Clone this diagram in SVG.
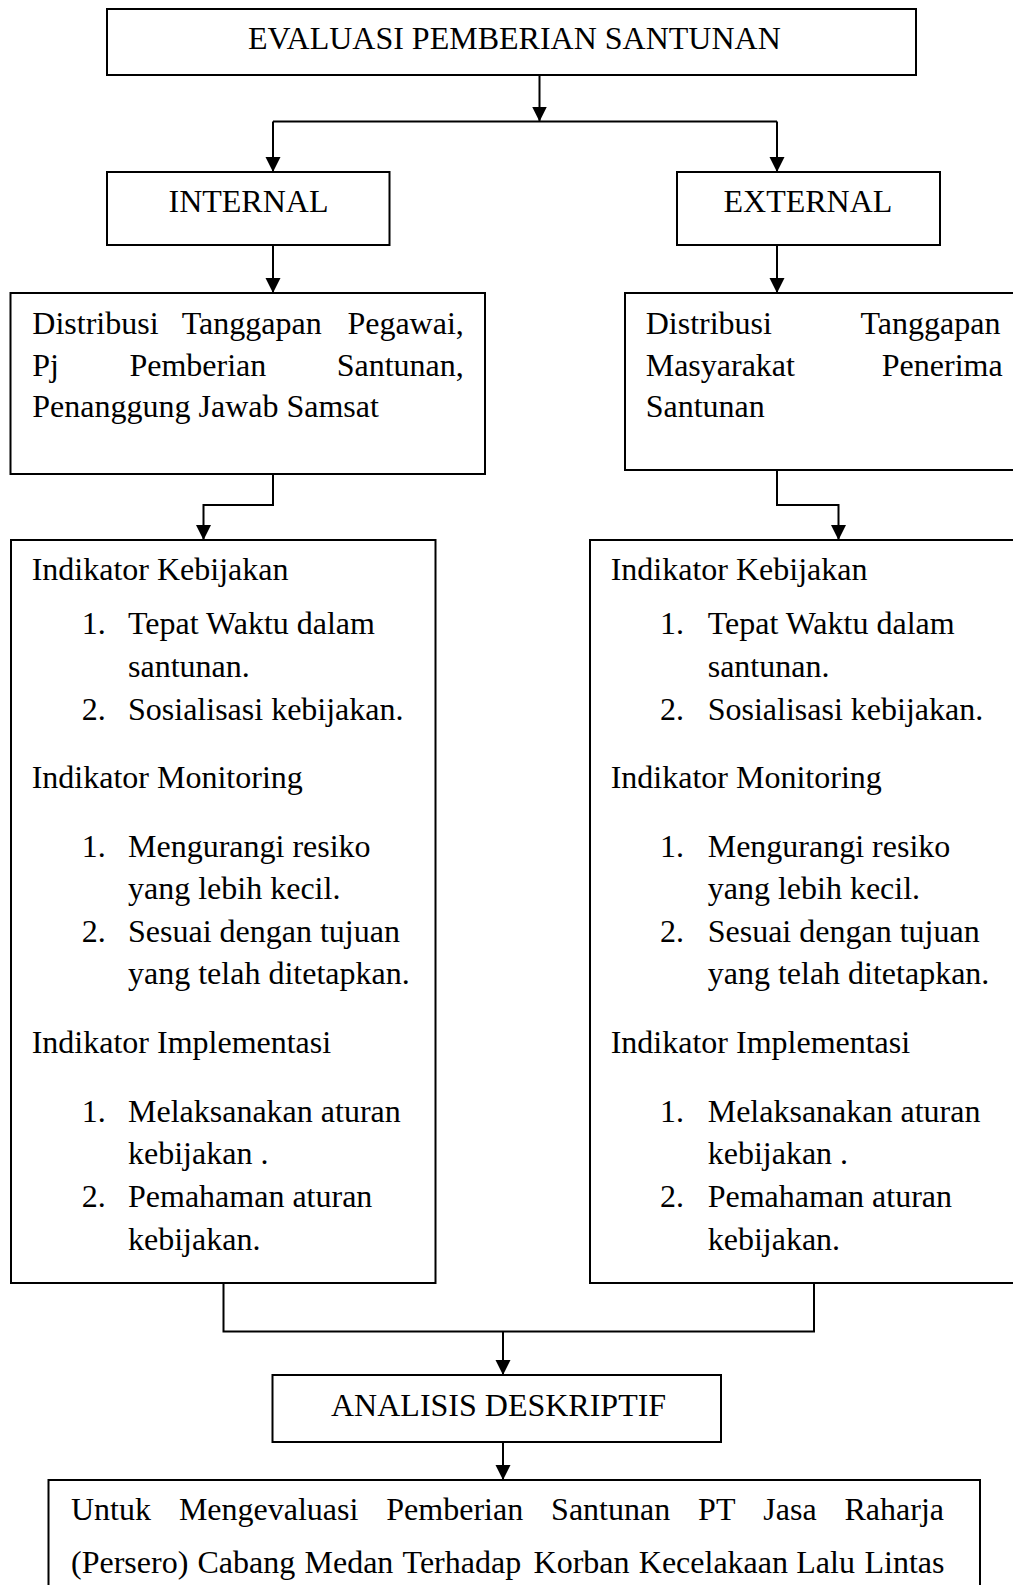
<svg xmlns="http://www.w3.org/2000/svg" width="1013" height="1585" viewBox="0 0 1013 1585">
<style>
.box{fill:#fff;stroke:#000;stroke-width:2}
.t{font-family:"Liberation Serif","Times New Roman",serif;font-size:32px;fill:#000}
.c{fill:none;stroke:#000;stroke-width:2}
</style>
<defs>
<marker id="ah" markerUnits="userSpaceOnUse" markerWidth="16" markerHeight="16" refX="15" refY="7.5" orient="auto">
<path d="M0,0 L15,7.5 L0,15 z" fill="#000"/>
</marker>
</defs>
<rect width="1013" height="1585" fill="#fff"/>

<g id="connectors">
<path class="c" d="M539.5,75 V121.5" marker-end="url(#ah)"/>
<path class="c" d="M273,121.5 H777"/>
<path class="c" d="M273,121.5 V172" marker-end="url(#ah)"/>
<path class="c" d="M777,121.5 V172" marker-end="url(#ah)"/>
<path class="c" d="M273,245 V293" marker-end="url(#ah)"/>
<path class="c" d="M777,245 V293" marker-end="url(#ah)"/>
<path class="c" d="M273,472 V505 H203.5 V540" marker-end="url(#ah)"/>
<path class="c" d="M777,469 V505 H838.5 V540" marker-end="url(#ah)"/>
<path class="c" d="M223.5,1283 V1331.5 H814 V1283"/>
<path class="c" d="M503,1331.5 V1375" marker-end="url(#ah)"/>
<path class="c" d="M503,1442 V1480" marker-end="url(#ah)"/>
</g>

<g id="evaluasi">
<rect class="box" x="107" y="9" width="809" height="66"/>
<text class="t" x="248" y="49">EVALUASI PEMBERIAN SANTUNAN</text>
</g>

<g id="internal">
<rect class="box" x="107" y="172" width="282.5" height="73"/>
<text class="t" x="168.5" y="211.5">INTERNAL</text>
</g>

<g id="external">
<rect class="box" x="677" y="172" width="263" height="73"/>
<text class="t" x="723.5" y="211.5">EXTERNAL</text>
</g>

<g id="distribusi-internal">
<rect class="box" x="10.5" y="293" width="474.5" height="181"/>
<text class="t" y="334"><tspan x="32.3">Distribusi</tspan><tspan x="181.8">Tanggapan</tspan><tspan x="347.4">Pegawai,</tspan></text>
<text class="t" y="376"><tspan x="32.3">Pj</tspan><tspan x="129.4">Pemberian</tspan><tspan x="336.7">Santunan,</tspan></text>
<text class="t" x="32.3" y="417">Penanggung Jawab Samsat</text>
</g>

<g id="distribusi-external">
<rect class="box" x="625" y="293" width="410" height="177"/>
<text class="t" y="334"><tspan x="645.7">Distribusi</tspan><tspan x="860.5">Tanggapan</tspan></text>
<text class="t" y="376"><tspan x="645.7">Masyarakat</tspan><tspan x="881.8">Penerima</tspan></text>
<text class="t" x="645.7" y="417">Santunan</text>
</g>

<g id="indikator-internal">
<rect class="box" x="11" y="540" width="424.5" height="743"/>
<text class="t" x="31.7" y="580">Indikator Kebijakan</text>
<text class="t" x="81.7" y="634">1.</text>
<text class="t" x="128" y="634">Tepat Waktu dalam</text>
<text class="t" x="128" y="677">santunan.</text>
<text class="t" x="81.7" y="720">2.</text>
<text class="t" x="128" y="720">Sosialisasi kebijakan.</text>
<text class="t" x="31.7" y="788">Indikator Monitoring</text>
<text class="t" x="81.7" y="857">1.</text>
<text class="t" x="128" y="857">Mengurangi resiko</text>
<text class="t" x="128" y="899">yang lebih kecil.</text>
<text class="t" x="81.7" y="942">2.</text>
<text class="t" x="128" y="942">Sesuai dengan tujuan</text>
<text class="t" x="128" y="984">yang telah ditetapkan.</text>
<text class="t" x="31.7" y="1053">Indikator Implementasi</text>
<text class="t" x="81.7" y="1122">1.</text>
<text class="t" x="128" y="1122">Melaksanakan aturan</text>
<text class="t" x="128" y="1164">kebijakan .</text>
<text class="t" x="81.7" y="1207">2.</text>
<text class="t" x="128" y="1207">Pemahaman aturan</text>
<text class="t" x="128" y="1250">kebijakan.</text>
</g>

<g id="indikator-external">
<rect class="box" x="590" y="540" width="445" height="743"/>
<text class="t" x="610.7" y="580">Indikator Kebijakan</text>
<text class="t" x="660" y="634">1.</text>
<text class="t" x="707.7" y="634">Tepat Waktu dalam</text>
<text class="t" x="707.7" y="677">santunan.</text>
<text class="t" x="660" y="720">2.</text>
<text class="t" x="707.7" y="720">Sosialisasi kebijakan.</text>
<text class="t" x="610.7" y="788">Indikator Monitoring</text>
<text class="t" x="660" y="857">1.</text>
<text class="t" x="707.7" y="857">Mengurangi resiko</text>
<text class="t" x="707.7" y="899">yang lebih kecil.</text>
<text class="t" x="660" y="942">2.</text>
<text class="t" x="707.7" y="942">Sesuai dengan tujuan</text>
<text class="t" x="707.7" y="984">yang telah ditetapkan.</text>
<text class="t" x="610.7" y="1053">Indikator Implementasi</text>
<text class="t" x="660" y="1122">1.</text>
<text class="t" x="707.7" y="1122">Melaksanakan aturan</text>
<text class="t" x="707.7" y="1164">kebijakan .</text>
<text class="t" x="660" y="1207">2.</text>
<text class="t" x="707.7" y="1207">Pemahaman aturan</text>
<text class="t" x="707.7" y="1250">kebijakan.</text>
</g>

<g id="analisis">
<rect class="box" x="272.5" y="1375" width="448.5" height="67"/>
<text class="t" x="331" y="1415.5">ANALISIS DESKRIPTIF</text>
</g>

<g id="kesimpulan">
<rect class="box" x="48.5" y="1480" width="931.5" height="130"/>
<text class="t" y="1520"><tspan x="71">Untuk</tspan><tspan x="178.9">Mengevaluasi</tspan><tspan x="386.3">Pemberian</tspan><tspan x="551.1">Santunan</tspan><tspan x="698.1">PT</tspan><tspan x="763.3">Jasa</tspan><tspan x="844.5">Raharja</tspan></text>
<text class="t" y="1573"><tspan x="71">(Persero)</tspan><tspan x="197.5">Cabang</tspan><tspan x="304.5">Medan</tspan><tspan x="402.6">Terhadap</tspan><tspan x="533.6">Korban</tspan><tspan x="638.8">Kecelakaan</tspan><tspan x="796.3">Lalu</tspan><tspan x="864.5">Lintas</tspan></text>
</g>
</svg>
